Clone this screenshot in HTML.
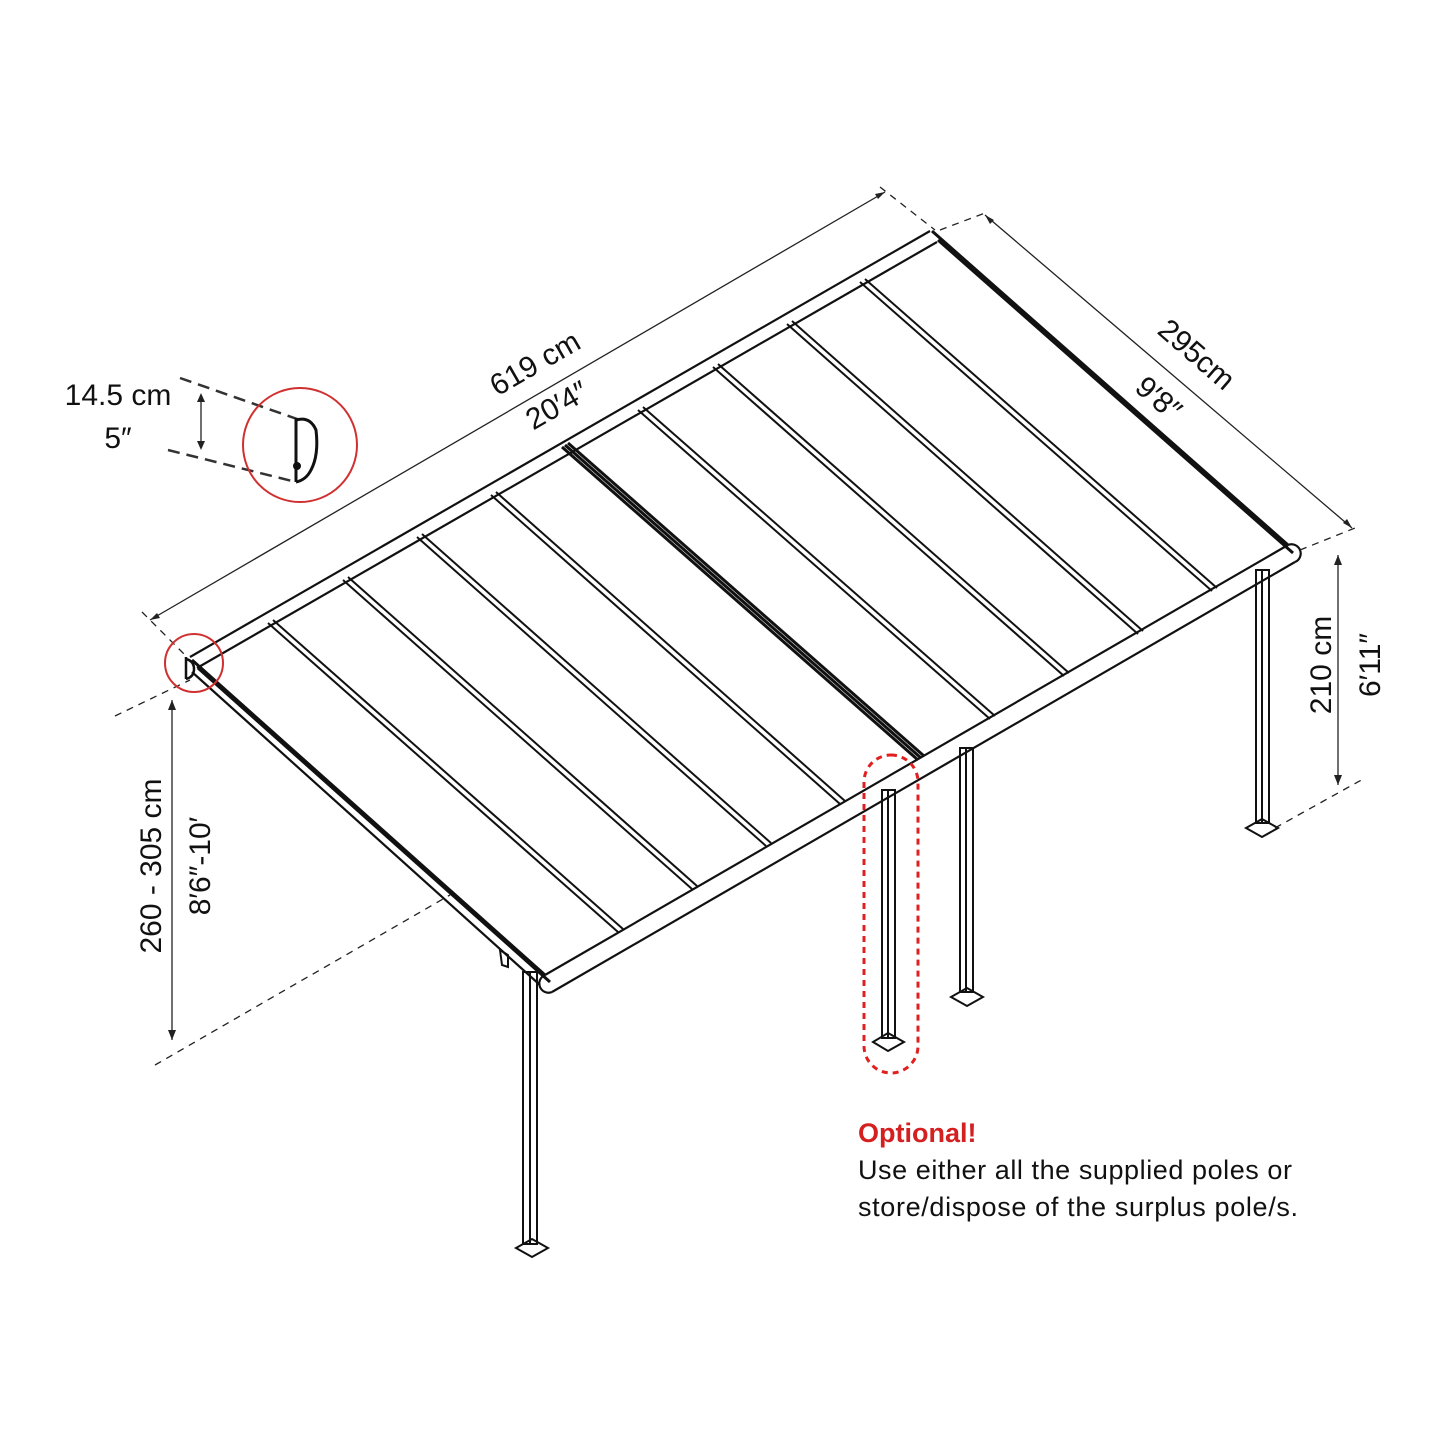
<!DOCTYPE html>
<html><head><style>body{margin:0;background:#fff}svg{display:block}text{font-family:"Liberation Sans",sans-serif}</style></head><body>
<svg width="1445" height="1445" viewBox="0 0 1445 1445" xmlns="http://www.w3.org/2000/svg">
<g stroke="#111" fill="none" stroke-width="2.2">
<line x1="190" y1="657" x2="930" y2="231"/>
<line x1="197" y1="668" x2="937" y2="242"/>
<line x1="545" y1="975" x2="1288" y2="545"/>
<line x1="552" y1="992" x2="1295" y2="562"/>
<path d="M1288 545 a9 9 0 0 1 7 17"/>
<path d="M545 975 a9 9 0 0 0 7 17"/>
<line x1="192" y1="660" x2="545" y2="975" stroke-width="3"/>
<line x1="198" y1="668" x2="550" y2="982" stroke-width="3"/>
<line x1="192" y1="672" x2="540" y2="985"/>
<line x1="932" y1="231" x2="1288" y2="545" stroke-width="3"/>
<line x1="938" y1="240" x2="1293" y2="553" stroke-width="3"/>
<line x1="562" y1="447" x2="918" y2="760" stroke-width="3"/>
<line x1="568" y1="443" x2="924" y2="756" stroke-width="3"/>
<line x1="565" y1="445" x2="921" y2="758" stroke-width="3"/>
<g stroke-width="2">
<line x1="268" y1="623" x2="618" y2="932"/><line x1="273" y1="620" x2="623" y2="929"/>
<line x1="343" y1="580" x2="692" y2="889"/><line x1="348" y1="577" x2="697" y2="886"/>
<line x1="417" y1="537" x2="766" y2="846"/><line x1="422" y1="534" x2="771" y2="843"/>
<line x1="491" y1="495" x2="840" y2="804"/><line x1="496" y1="492" x2="845" y2="801"/>
<line x1="638" y1="410" x2="990" y2="719"/><line x1="643" y1="407" x2="995" y2="716"/>
<line x1="713" y1="367" x2="1064" y2="676"/><line x1="718" y1="364" x2="1069" y2="673"/>
<line x1="787" y1="324" x2="1138" y2="634"/><line x1="792" y1="321" x2="1143" y2="631"/>
<line x1="860" y1="282" x2="1212" y2="591"/><line x1="865" y1="279" x2="1217" y2="588"/>
</g>
<g stroke-width="2">
<rect x="523" y="972" width="14" height="272"/><line x1="530" y1="972" x2="530" y2="1244"/>
<path d="M516 1248 l16 -9 l16 9 l-16 9 z"/>
<rect x="882" y="790" width="13" height="248"/><line x1="888" y1="790" x2="888" y2="1038"/>
<path d="M873 1042 l15 -9 l16 9 l-16 9 z"/>
<rect x="960" y="748" width="13" height="244"/><line x1="966" y1="748" x2="966" y2="992"/>
<path d="M951 997 l16 -9 l16 9 l-16 9 z"/>
<rect x="1256" y="570" width="13" height="253"/><line x1="1262" y1="570" x2="1262" y2="823"/>
<path d="M1246 828 l16 -9 l16 9 l-16 9 z"/>
<path d="M500 950 l8 5 v12 l-6 -2 z"/>
</g>
<path d="M186 657 v22 M186 659 q8 2 8 10 q0 8 -8 10" stroke-width="2.5"/>
</g>
<g stroke="#222" stroke-width="1.3" fill="none">
<line x1="150" y1="620" x2="885" y2="192"/>
<line x1="985" y1="215" x2="1352" y2="528"/>
<line x1="1338" y1="555" x2="1338" y2="785"/>
<line x1="172" y1="700" x2="172" y2="1040"/>
<line x1="201" y1="395" x2="201" y2="448"/>
<g stroke-dasharray="7 6">
<line x1="115" y1="716" x2="190" y2="680"/>
<line x1="155" y1="1065" x2="450" y2="895"/>
<line x1="1275" y1="828" x2="1365" y2="778"/>
<line x1="1300" y1="550" x2="1355" y2="528"/>
<line x1="880" y1="187" x2="935" y2="230"/>
<line x1="940" y1="230" x2="985" y2="213"/>
<line x1="142" y1="612" x2="185" y2="655"/>
</g>
<g stroke-dasharray="12 7" stroke-width="2.5" stroke="#333">
<line x1="180" y1="378" x2="300" y2="420"/>
<line x1="168" y1="450" x2="296" y2="482"/>
</g>
</g>
<g fill="#222">
<path d="M150 620 l10 -2 l-3 -5 z"/><path d="M885 192 l-10 2 l3 5 z"/>
<path d="M985 215 l5 9 l4 -4 z"/><path d="M1352 528 l-5 -9 l-4 4 z"/>
<path d="M1338 555 l-4 10 h8 z"/><path d="M1338 785 l-4 -10 h8 z"/>
<path d="M172 700 l-4 10 h8 z"/><path d="M172 1040 l-4 -10 h8 z"/>
<path d="M201 393 l-4 9 h8 z"/><path d="M201 450 l-4 -9 h8 z"/>
</g>
<g stroke="#111" stroke-width="3" fill="none">
<line x1="296" y1="418" x2="296" y2="482"/>
<path d="M296 420 q14 -4 20 10 q3 25 -5 40 q-5 10 -15 12"/>
<circle cx="297" cy="466" r="2.5" fill="#111"/>
</g>
<g stroke="#d03030" fill="none" stroke-width="2">
<circle cx="300" cy="445" r="57"/>
<circle cx="194" cy="663" r="29"/>
<rect x="864" y="755" width="54" height="318" rx="27" stroke-dasharray="6 5" stroke-width="3" stroke="#e02020"/>
</g>
<g font-size="30" fill="#111">
<text transform="translate(540,372) rotate(-30)" text-anchor="middle">619 cm</text>
<text transform="translate(562,414) rotate(-30)" text-anchor="middle">20′4″</text>
<text transform="translate(1190,362) rotate(41)" text-anchor="middle">295cm</text>
<text transform="translate(1152,406) rotate(41)" text-anchor="middle">9′8″</text>
<text transform="translate(1331,665) rotate(-90)" text-anchor="middle">210 cm</text>
<text transform="translate(1380,665) rotate(-90)" text-anchor="middle">6′11″</text>
<text transform="translate(161,866) rotate(-90)" text-anchor="middle">260 - 305 cm</text>
<text transform="translate(210,866) rotate(-90)" text-anchor="middle">8′6″-10′</text>
<text x="118" y="405" text-anchor="middle">14.5 cm</text>
<text x="118" y="448" text-anchor="middle">5″</text>
</g>
<text x="858" y="1142" font-size="27" font-weight="bold" fill="#d42020">Optional!</text>
<text x="858" y="1179" font-size="27" fill="#111" textLength="434">Use either all the supplied poles or</text>
<text x="858" y="1216" font-size="27" fill="#111" textLength="440">store/dispose of the surplus pole/s.</text>
</svg>
</body></html>
